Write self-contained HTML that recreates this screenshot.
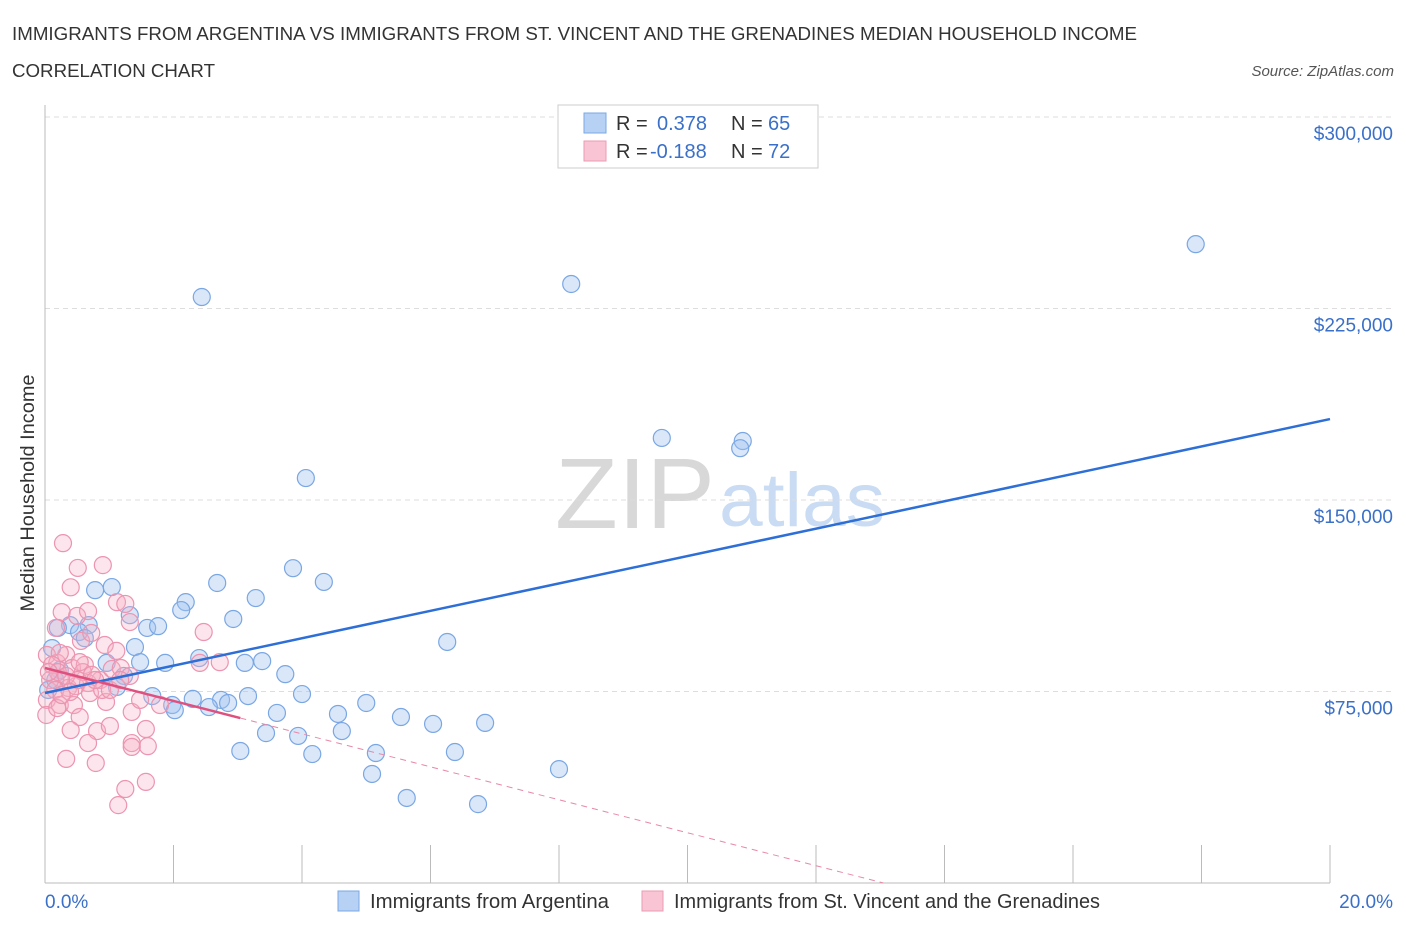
<!DOCTYPE html>
<html><head><meta charset="utf-8"><style>
body{margin:0;background:#fff;font-family:"Liberation Sans",sans-serif;}
svg text{font-family:"Liberation Sans",sans-serif;}
</style></head><body>
<svg id="c" width="1406" height="930" xmlns="http://www.w3.org/2000/svg">
<text x="12" y="40" font-size="18" fill="#333" textLength="1125" lengthAdjust="spacingAndGlyphs">IMMIGRANTS FROM ARGENTINA VS IMMIGRANTS FROM ST. VINCENT AND THE GRENADINES MEDIAN HOUSEHOLD INCOME</text>
<text x="12" y="77" font-size="18" fill="#333" textLength="203" lengthAdjust="spacingAndGlyphs">CORRELATION CHART</text>
<text x="1394" y="76" font-size="15" fill="#555" font-style="italic" text-anchor="end">Source: ZipAtlas.com</text>
<g>
<text x="635" y="528" font-size="100" fill="#d8d8d8" font-family="Liberation Serif" text-anchor="middle" textLength="160" lengthAdjust="spacingAndGlyphs">ZIP</text>
<text x="802" y="526" font-size="76" fill="#c9dcf3" text-anchor="middle" textLength="166" lengthAdjust="spacingAndGlyphs">atlas</text>
</g>
<g id="grid"></g>
<g id="axes"></g>
<g id="marks"></g>
<g>
<rect x="558" y="105" width="260" height="63" fill="#fff" stroke="#ccc"/>
<rect x="584" y="113" width="22" height="20" fill="#b7d1f4" stroke="#7aa7e4"/>
<rect x="584" y="141" width="22" height="20" fill="#f9c5d4" stroke="#ec9ab3"/>
<text x="616" y="130" font-size="20" fill="#333">R = </text><text x="657" y="130" font-size="20" fill="#3a70c8">0.378</text>
<text x="731" y="130" font-size="20" fill="#333">N = </text><text x="768" y="130" font-size="20" fill="#3a70c8">65</text>
<text x="616" y="158" font-size="20" fill="#333">R = </text><text x="650" y="158" font-size="20" fill="#3a70c8">-0.188</text>
<text x="731" y="158" font-size="20" fill="#333">N = </text><text x="768" y="158" font-size="20" fill="#3a70c8">72</text>
</g>
<g>
<rect x="338" y="891" width="21" height="20" fill="#b7d1f4" stroke="#7aa7e4"/>
<text x="370" y="908" font-size="20" fill="#333" textLength="239" lengthAdjust="spacingAndGlyphs">Immigrants from Argentina</text>
<rect x="642" y="891" width="21" height="20" fill="#f9c5d4" stroke="#ec9ab3"/>
<text x="674" y="908" font-size="20" fill="#333" textLength="426" lengthAdjust="spacingAndGlyphs">Immigrants from St. Vincent and the Grenadines</text>
</g>
<text x="45" y="908" font-size="19" fill="#3a70c8">0.0%</text>
<text x="1393" y="908" font-size="19" fill="#3a70c8" text-anchor="end">20.0%</text>
<text transform="translate(34,493) rotate(-90)" font-size="19" fill="#333" text-anchor="middle" textLength="237" lengthAdjust="spacingAndGlyphs">Median Household Income</text>
</svg>
<script>
const yTicks=[75000,150000,225000,300000];
const yTickLabels=["$75,000","$150,000","$225,000","$300,000"];
const xTicks=[0,2,4,6,8,10,12,14,16,18,20];
const argX=[2.44,8.19,17.91,4.06,9.60,10.86,10.82,3.86,4.34,2.68,1.04,0.78,3.28,2.19,2.12,1.32,2.93,0.39,0.68,0.20,1.59,1.76,0.53,0.62,1.40,6.26,2.40,1.48,1.87,3.11,3.38,0.96,3.74,1.23,1.12,4.00,3.16,1.67,2.74,2.30,1.98,2.02,2.55,2.85,5.00,3.61,4.56,5.54,6.04,6.85,4.62,3.44,3.94,3.04,4.16,5.15,6.38,5.09,8.00,5.63,6.74,0.05,0.23,0.11,0.16];
const argY=[229.5,234.6,250.2,158.6,174.3,173.1,170.3,123.3,117.9,117.5,115.9,114.7,111.6,110.0,106.9,104.9,103.4,101.0,101.0,99.9,99.9,100.6,98.3,95.9,92.4,94.4,88.1,86.5,86.2,86.2,86.9,86.2,81.8,81.1,76.8,74.0,73.2,73.2,71.7,72.1,69.7,67.7,68.9,70.5,70.5,66.6,66.2,65.0,62.3,62.7,59.5,58.7,57.6,51.7,50.5,50.9,51.3,42.7,44.6,33.3,30.9,75.6,83.4,92.0,79.5];
const vinX=[0.28,0.51,0.90,0.40,1.12,1.25,0.26,0.50,0.67,2.47,1.32,0.17,0.93,1.11,0.56,0.72,0.03,0.19,0.33,0.42,0.62,0.59,0.23,0.08,0.36,0.48,0.67,0.86,1.04,1.18,1.32,2.72,2.41,0.16,0.03,0.23,0.45,0.70,0.95,1.79,1.35,0.54,0.40,0.81,1.57,1.01,1.35,1.60,0.67,1.35,0.33,0.79,1.57,1.25,1.14,0.23,0.11,0.20,0.33,0.51,0.73,0.89,0.39,0.06,0.54,0.78,1.01,1.17,0.02,0.19,1.48,0.26];
const vinY=[133.1,123.4,124.5,115.8,110.0,109.3,106.1,104.6,106.5,98.3,102.2,99.9,93.2,90.9,94.8,97.9,89.3,86.2,89.3,84.2,85.4,82.6,80.3,79.5,76.4,77.1,78.3,79.5,83.8,84.2,81.1,86.5,86.2,75.6,71.7,69.7,69.7,74.4,70.9,69.7,67.0,65.0,59.9,59.5,60.3,61.5,54.8,53.6,54.8,53.3,48.6,47.0,39.6,36.8,30.5,90.1,85.4,82.6,81.1,79.5,81.5,75.6,74.8,82.6,86.5,79.5,75.6,79.5,65.8,68.5,71.7,73.6];
const argTrend=[0,74.4,20,181.7];
const vinTrend=[0,84.2,3.04,64.6,13.05,0];
const NS="http://www.w3.org/2000/svg";
const X0=45,X1=1330,YB=883,PXK=191.5/75;
const xs=v=>X0+(v/20)*(X1-X0);
const ys=k=>YB-k*PXK;
function mk(t,a,p){const e=document.createElementNS(NS,t);for(const k in a)e.setAttribute(k,a[k]);p.appendChild(e);return e;}
const grid=document.getElementById('grid'),axes=document.getElementById('axes'),marks=document.getElementById('marks');
yTicks.forEach((v,i)=>{
 const y=ys(v/1000);
 const l=mk('line',{x1:X0,x2:1392,y1:y,y2:y,stroke:'#ddd','stroke-dasharray':'5,4'},grid);
 
 
 const t=mk('text',{x:1393,y:y+23,'font-size':19,fill:'#3a70c8','text-anchor':'end'},axes);
 t.textContent=yTickLabels[i];
 
 
});
const ax=mk('line',{x1:X0,x2:X0,y1:105,y2:YB,stroke:'#bbb'},axes);


const bx=mk('line',{x1:X0,x2:X1,y1:YB,y2:YB,stroke:'#bbb'},axes);


xTicks.forEach(v=>{
 const tk=mk('line',{x1:xs(v),x2:xs(v),y1:845,y2:YB,stroke:'#bbb'},axes);
 
 
});
argX.forEach((x,i)=>{
 const c=mk('circle',{cx:xs(x),cy:ys(argY[i]),r:8.5,fill:'rgba(160,196,240,0.4)',stroke:'#7aa7e4','stroke-width':1.2},marks);
 
 
});
vinX.forEach((x,i)=>{
 const c=mk('circle',{cx:xs(x),cy:ys(vinY[i]),r:8.5,fill:'rgba(245,175,198,0.33)',stroke:'#ec94b0','stroke-width':1.2},marks);
 
 
});
const bl=mk('line',{x1:xs(argTrend[0]),y1:ys(argTrend[1]),x2:xs(argTrend[2]),y2:ys(argTrend[3]),stroke:'#2d6fd6','stroke-width':2.5},marks);


const pl=mk('line',{x1:xs(vinTrend[0]),y1:ys(vinTrend[1]),x2:xs(vinTrend[2]),y2:ys(vinTrend[3]),stroke:'#e0507f','stroke-width':2.5},marks);


const pd=mk('line',{x1:xs(vinTrend[2]),y1:ys(vinTrend[3]),x2:xs(vinTrend[4]),y2:ys(vinTrend[5]),stroke:'#e888a6','stroke-width':1,'stroke-dasharray':'6,5'},marks);


</script>
</body></html>
